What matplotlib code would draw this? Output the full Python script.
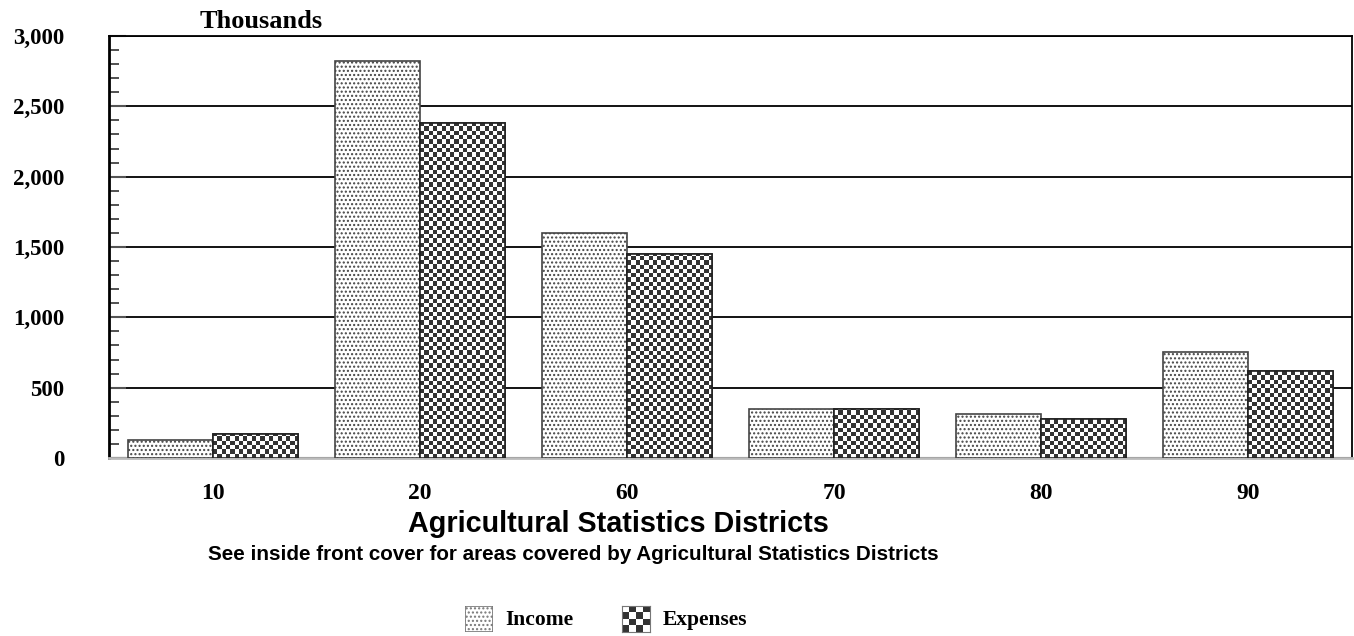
import numpy as np
import matplotlib
matplotlib.use("Agg")
import matplotlib.pyplot as plt
from matplotlib.patches import Rectangle

# 数据
districts = ['10', '20', '60', '70', '80', '90']
income = [130, 2825, 1600, 345, 310, 757]
expenses = [169, 2378, 1450, 345, 277, 619]

plt.rcParams['hatch.color'] = '#a0a0a0'
plt.rcParams['hatch.linewidth'] = 1.0

serif = 'Liberation Serif'
sans = 'Liberation Sans'

W, H = 1354, 636
fig = plt.figure(figsize=(W / 100, H / 100), dpi=100)
ax = fig.add_axes([109 / W, 178 / H, 1243 / W, 422 / H])

x = np.arange(len(districts))
bw = 0.41
checker_dark = '#333333'


def checker(nx, ny):
    a = (np.add.outer(np.arange(ny), np.arange(nx)) % 2).astype(float)
    return a


# 收入：点状填充
ax.bar(x - bw / 2, income, width=bw, facecolor='white', edgecolor='#444444',
       linewidth=1.2, hatch='....', zorder=3)

# 支出：棋盘格填充（imshow + 裁剪）
exp_bars = ax.bar(x + bw / 2, expenses, width=bw, facecolor='white',
                  edgecolor='#222222', linewidth=1.2, zorder=3)
sx = 4.3 / 207.2
sy = 4.3 / 0.1407
cmap = matplotlib.colors.ListedColormap(['white', checker_dark])
for b in exp_bars:
    x0 = b.get_x()
    nx = int(np.ceil(b.get_width() / sx))
    ny = int(np.ceil(b.get_height() / sy))
    im = ax.imshow(checker(nx, ny), cmap=cmap, interpolation='nearest',
                   origin='lower', aspect='auto',
                   extent=(x0, x0 + nx * sx, 0, ny * sy), zorder=3.5)
    im.set_clip_path(b)
    edge = Rectangle((x0, 0), b.get_width(), b.get_height(), fill=False,
                     edgecolor='#222222', linewidth=1.2, zorder=4)
    ax.add_patch(edge)

ax.set_xlim(-0.5, len(districts) - 0.5)
ax.set_ylim(0, 3000)

# 网格线
ax.yaxis.grid(True, color='black', linewidth=1.3, zorder=0)
ax.set_axisbelow(True)
ax.axhline(0, color='black', linewidth=2.2, zorder=2)

ax.set_yticks(np.arange(0, 3001, 500))
ax.set_yticklabels(['0', '500', '1,000', '1,500', '2,000', '2,500', '3,000'],
                   fontfamily=serif, fontweight='bold', fontsize=16.5)
ax.set_yticks(np.arange(0, 3001, 100), minor=True)
ax.tick_params(axis='y', which='minor', direction='in', length=7, width=1.2,
               color='#333333')
ax.tick_params(axis='y', which='major', direction='in', length=12, width=1.5,
               color='#555555', pad=32)

ax.set_xticks(x)
ax.set_xticklabels(districts, fontfamily=serif, fontweight='bold', fontsize=17)
ax.tick_params(axis='x', length=0, pad=18)

for s in ['left', 'top', 'right']:
    ax.spines[s].set_linewidth(1.3)
ax.spines['left'].set_linewidth(2)
ax.spines['bottom'].set_color('#bbbbbb')
ax.spines['bottom'].set_linewidth(2)

fig.text(261 / W, 1 - 22 / H, 'Thousands', ha='center', va='center',
         fontfamily=serif, fontweight='bold', fontsize=19)

fig.text(618 / W, 1 - 524 / H, 'Agricultural Statistics Districts',
         ha='center', va='center', fontfamily=sans, fontweight='bold',
         fontsize=20.7)
fig.text(573 / W, 1 - 555 / H,
         'See inside front cover for areas covered by Agricultural Statistics Districts',
         ha='center', va='center', fontfamily=sans, fontweight='bold',
         fontsize=14.9)

# 图例
sw_inc = fig.add_axes([465 / W, 1 - 632 / H, 28 / W, 26 / H])
sw_inc.add_patch(Rectangle((0, 0), 1, 1, facecolor='white', edgecolor='#777777',
                           hatch='....', linewidth=1.2, transform=sw_inc.transAxes))
sw_inc.set_axis_off()
fig.text(505 / W, 1 - 620 / H, 'Income', ha='left', va='center',
         fontfamily=serif, fontweight='bold', fontsize=15.5)

sw_exp = fig.add_axes([622 / W, 1 - 632 / H, 28 / W, 26 / H])
sw_exp.imshow(checker(4, 4), cmap=cmap, interpolation='nearest', aspect='auto')
for s in sw_exp.spines.values():
    s.set_color('#777777')
sw_exp.set_xticks([])
sw_exp.set_yticks([])
fig.text(663 / W, 1 - 620 / H, 'Expenses', ha='left', va='center',
         fontfamily=serif, fontweight='bold', fontsize=15.5)

fig.savefig('out.png', dpi=100)
